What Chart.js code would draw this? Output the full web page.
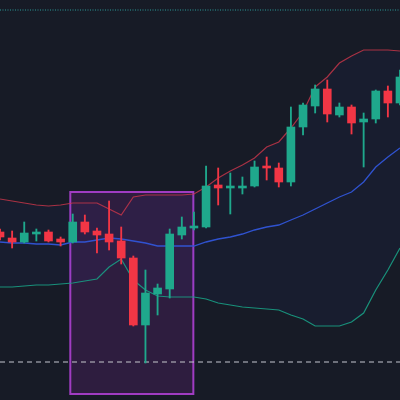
<!DOCTYPE html>
<html>
<head>
<meta charset="utf-8">
<script src="https://cdn.jsdelivr.net/npm/chart.js@4/dist/chart.umd.min.js"></script>
<style>
  html, body { margin: 0; padding: 0; background: #171b26; }
  #wrap { width: 400px; height: 400px; }
</style>
</head>
<body>
<div id="wrap"><canvas id="myChart" width="400" height="400"></canvas></div>
<script>
const labels = ['1','2','3','4','5','6','7','8','9','10','11','12','13','14','15','16','17',
  '18','19','20','21','22','23','24','25','26','27','28','29','30','31','32','33','34'];

const open  = [142, 140.5, 139.5, 141.5, 142, 140.25, 139.5, 144.5, 142.25, 141.5, 139.75, 135.5, 118.75, 126.5, 127.75, 141.25, 143,
  143.25, 153.75, 153, 153, 153.5, 158.5, 158, 154.5, 168.25, 173.5, 177.75, 171.25, 173.25, 169.5, 170.25, 177.25, 174.25];
const close = [140.75, 139.5, 141.75, 142, 139.75, 139.5, 144.5, 142, 141.25, 139.5, 135.5, 118.75, 126.75, 128, 141.5, 143.25, 143.5,
  153.5, 153, 153.5, 153.5, 158.25, 158, 154.5, 168.25, 173.75, 177.75, 171.5, 173.25, 169.25, 170.25, 177.25, 174.25, 180.75];
const high  = [142.75, 142.25, 144.5, 142.75, 142.5, 140.75, 146.5, 146.25, 143, 149.75, 143.25, 136, 132.5, 129, 142.75, 145.75, 147,
  158.5, 158, 156.75, 155.75, 159.75, 160.75, 159.25, 173.25, 174.25, 178.75, 180, 174.25, 173.75, 171.75, 177.5, 178.5, 182.5];
const low   = [140, 138, 139.25, 139.75, 139.5, 138.5, 139.25, 141.5, 136.75, 137.5, 134, 118.5, 109.25, 121.25, 125.5, 140.25, 142.5,
  143, 148.75, 146.5, 151.5, 153.25, 155, 153.25, 153.5, 166.25, 171.75, 169.5, 170.75, 166.5, 158.25, 169.25, 170.75, 173.75];

const bandUpper = [150.25, 149.75, 149.25, 148.75, 148.5, 148.75, 149.25, 149.25, 149.25, 147.75, 146.25, 150.75, 151.25, 151.25, 151.25, 151.25, 151.5,
  153.25, 155.5, 157.25, 158.75, 160.5, 163.25, 164.5, 168, 172, 178.25, 180.75, 184.25, 186, 187.5, 187.5, 187.5, 187.25];
const bandMiddle = [139.5, 139.25, 139.25, 139, 139, 138.75, 139.5, 139.5, 140, 140.5, 140.25, 139.75, 139.25, 138.5, 138.5, 138.5, 138.5,
  139.5, 140.25, 140.75, 141.5, 142.5, 143.25, 143.75, 145, 146.25, 147.75, 149.25, 150.75, 152, 154.5, 158.25, 160.75, 163];
const bandLower = [128.25, 128.25, 128.5, 128.75, 128.75, 129, 129.25, 129.75, 130.25, 133.25, 135.25, 130, 127.5, 126, 125.75, 125.75, 125.75,
  125.25, 124.25, 123.75, 123.25, 123, 122.75, 122.5, 121.25, 120.25, 118.5, 118.5, 118.5, 119.5, 121.75, 127.5, 132.5, 138];

const supportLevel = 109.5;
const resistanceLevel = 197.5;
// highlighted zone: from candle index to candle index, price top/bottom
const zoneFrom = 5.8, zoneTo = 15.95;
const zoneTop = 152, zoneBottom = 101.5;

const UP = '#1fa88c';
const DOWN = '#f23645';

const candleColor = (ctx) => close[ctx.dataIndex] >= open[ctx.dataIndex] ? UP : DOWN;

const zoneBox = {
  id: 'zoneBox',
  beforeDatasetsDraw(chart) {
    const { ctx, scales: { x, y } } = chart;
    const left = x.getPixelForValue(zoneFrom);
    const right = x.getPixelForValue(zoneTo);
    const top = y.getPixelForValue(zoneTop);
    const bottom = y.getPixelForValue(zoneBottom);
    ctx.save();
    ctx.fillStyle = 'rgba(156, 39, 176, 0.18)';
    ctx.fillRect(left, top, right - left, bottom - top);
    ctx.strokeStyle = '#a03cc2';
    ctx.lineWidth = 2;
    ctx.strokeRect(left, top, right - left, bottom - top);
    ctx.restore();
  }
};

const ctx = document.getElementById('myChart');

new Chart(ctx, {
  type: 'bar',
  data: {
    labels: labels,
    datasets: [
      {
        label: 'Wick',
        data: labels.map((_, i) => [low[i], high[i]]),
        backgroundColor: candleColor,
        barThickness: 1.2,
        grouped: false,
        order: 1
      },
      {
        label: 'Body',
        data: labels.map((_, i) => [open[i], close[i]]),
        backgroundColor: candleColor,
        barThickness: 8,
        grouped: false,
        order: 0
      },
      {
        type: 'line',
        label: 'Upper',
        data: bandUpper,
        borderColor: 'rgba(205, 55, 75, 0.8)',
        backgroundColor: 'rgba(41, 98, 255, 0.045)',
        borderWidth: 1.2,
        pointRadius: 0,
        fill: '+2',
        order: 3
      },
      {
        type: 'line',
        label: 'Basis',
        data: bandMiddle,
        borderColor: 'rgba(50, 85, 215, 0.95)',
        borderWidth: 1.3,
        pointRadius: 0,
        fill: false,
        order: 3
      },
      {
        type: 'line',
        label: 'Lower',
        data: bandLower,
        borderColor: 'rgba(25, 160, 130, 0.9)',
        borderWidth: 1.2,
        pointRadius: 0,
        fill: false,
        order: 3
      },
      {
        type: 'line',
        label: 'Support',
        data: labels.map(() => supportLevel),
        borderColor: 'rgba(190, 192, 200, 0.7)',
        borderWidth: 1.5,
        borderDash: [5, 4],
        pointRadius: 0,
        fill: false,
        order: 2
      },
      {
        type: 'line',
        label: 'Resistance',
        data: labels.map(() => resistanceLevel),
        borderColor: 'rgba(45, 170, 165, 0.9)',
        borderWidth: 1,
        borderDash: [1, 1.5],
        pointRadius: 0,
        fill: false,
        order: 2
      }
    ]
  },
  options: {
    responsive: false,
    animation: false,
    layout: { padding: 0 },
    plugins: {
      legend: { display: false },
      tooltip: { enabled: false }
    },
    scales: {
      x: { display: false, offset: false },
      y: { display: false, min: 100, max: 200 }
    }
  },
  plugins: [zoneBox]
});
</script>
</body>
</html>
